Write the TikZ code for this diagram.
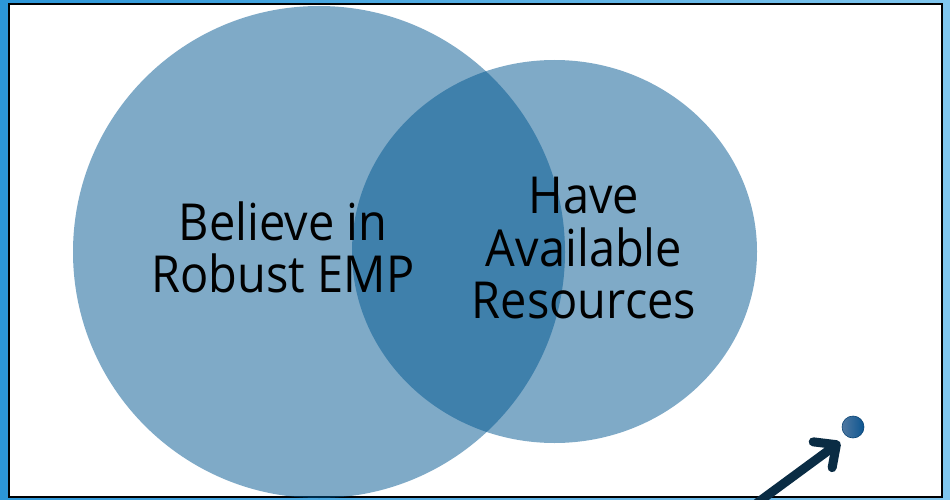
\documentclass[tikz,border=0pt]{standalone}
\usepackage{fontspec}
\setmainfont{Open Sans}[FakeStretch=0.92]
\usetikzlibrary{arrows.meta}
\definecolor{bgL}{RGB}{44,150,216}
\definecolor{bgR}{RGB}{128,198,238}
\definecolor{vennc}{RGB}{0,87,145}
\definecolor{arrowc}{RGB}{10,44,68}
\definecolor{dotA}{RGB}{80,120,160}
\definecolor{dotB}{RGB}{12,85,145}
\tikzset{
  venn/.style={fill=vennc, fill opacity=0.5, draw=none},
  lbl/.style={anchor=base, font=\fontsize{51}{51}\selectfont, text=black, inner sep=0pt}
}
\begin{document}
\begin{tikzpicture}[x=1pt,y=-1pt]
\useasboundingbox (0,0) rectangle (950,500);
\shade[left color=bgL, right color=bgR] (0,0) rectangle (950,500);
\fill[white, draw=black, line width=2.5pt] (9,4) rectangle (942,497);
\fill[venn] (319,252) circle[radius=246];
\fill[venn] (554.5,251.5) ellipse[x radius=202.5, y radius=191.5];
\node[lbl] (b1) at (283,240) {Believe in};
\node[lbl] (b2) at (283,292) {Robust EMP};
\node[lbl] (h1) at (584,213) {Have};
\node[lbl] (h2) at (584,266) {Available};
\node[lbl] (h3) at (584,318) {Resources};
\shade[left color=dotA, right color=dotB, draw=dotB!80!black, line width=0.6pt] (853,427) circle[radius=11] coordinate (dot);
\coordinate (tail) at (757,503);
\coordinate (tip) at (840,442);
\draw[arrowc, line width=9pt, line cap=round, -{Straight Barb[length=17pt, width=32pt, round]}] (tail) -- (tip);
\end{tikzpicture}
\end{document}
